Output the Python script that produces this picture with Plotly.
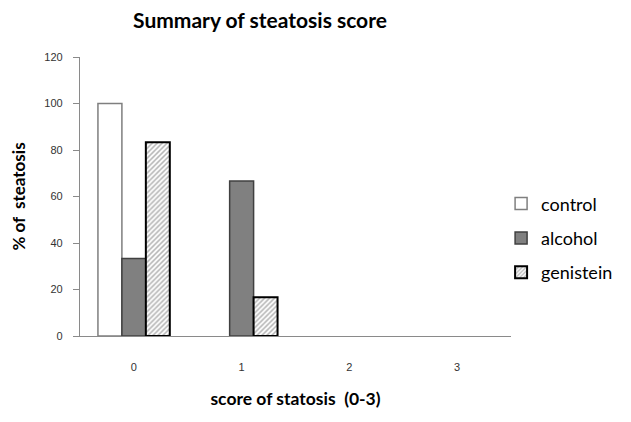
import plotly.graph_objects as go

categories = ["0", "1", "2", "3"]
control = [100, 0, 0, 0]
alcohol = [33.3, 66.7, 0, 0]
genistein = [83.3, 16.7, 0, 0]
y_ticks = [0, 20, 40, 60, 80, 100, 120]


def shown(values):
    # Zero-height bars are not drawn in the original chart
    return [v if v else None for v in values]


fig = go.Figure()
fig.add_trace(go.Bar(
    x=categories, y=shown(control), name="control", legendgroup="a",
    marker=dict(color="white", line=dict(color="#7f7f7f", width=1.5)),
))
fig.add_trace(go.Bar(
    x=categories, y=shown(alcohol), name="alcohol", legendgroup="b",
    marker=dict(color="#808080", line=dict(color="#404040", width=1.5)),
))
fig.add_trace(go.Bar(
    x=categories, y=shown(genistein), name="genistein", legendgroup="c",
    marker=dict(color="white", line=dict(color="black", width=2),
                pattern=dict(shape="/", fgcolor="#6a6a6a", bgcolor="white",
                             size=3.5, solidity=0.45)),
))

# page body has an 8px margin, so the figure is 8px smaller and shifted
W, H = 623, 414
L, T = 72, 49
PW, PH = 431, 279

fig.update_layout(
    width=W, height=H,
    paper_bgcolor="white", plot_bgcolor="white",
    margin=dict(l=L, r=W - L - PW, t=T, b=H - T - PH, autoexpand=False),
    barmode="group", bargap=0.333, bargroupgap=0,
    title=dict(text="<b>Summary of steatosis score</b>", x=252 / W, xanchor="center",
               y=1 - 13 / H, yanchor="middle",
               font=dict(family="Lato, Open Sans, sans-serif", size=21, color="black")),
    legend=dict(x=0.977, xanchor="left", y=0.35, yanchor="middle",
                font=dict(family="Lato, sans-serif", size=18, color="black"),
                traceorder="grouped", tracegroupgap=8, itemwidth=30),
    showlegend=True,
)
fig.update_xaxes(
    type="category", showline=True, linecolor="#8a8a8a", linewidth=1.3,
    ticks="", showgrid=False, ticklabelstandoff=21,
    tickfont=dict(family="Liberation Sans, Arial", size=11, color="#333333"),
    title=dict(text="<b>score of statosis  (0-3)</b>", standoff=20,
               font=dict(family="Lato, sans-serif", size=17.5, color="black")),
    automargin=False,
)
fig.update_yaxes(
    range=[0, 120], tickvals=y_ticks, showline=True, linecolor="#8a8a8a", linewidth=1.3,
    ticks="outside", ticklen=6, tickcolor="#8a8a8a", showgrid=False, zeroline=False,
    ticklabelstandoff=8,
    tickfont=dict(family="Liberation Sans, Arial", size=11, color="#333333"),
    title=dict(text="<b>% of  steatosis</b>", standoff=17,
               font=dict(family="Lato, sans-serif", size=17, color="black")),
    automargin=False,
)

fig.write_html("out.html")
